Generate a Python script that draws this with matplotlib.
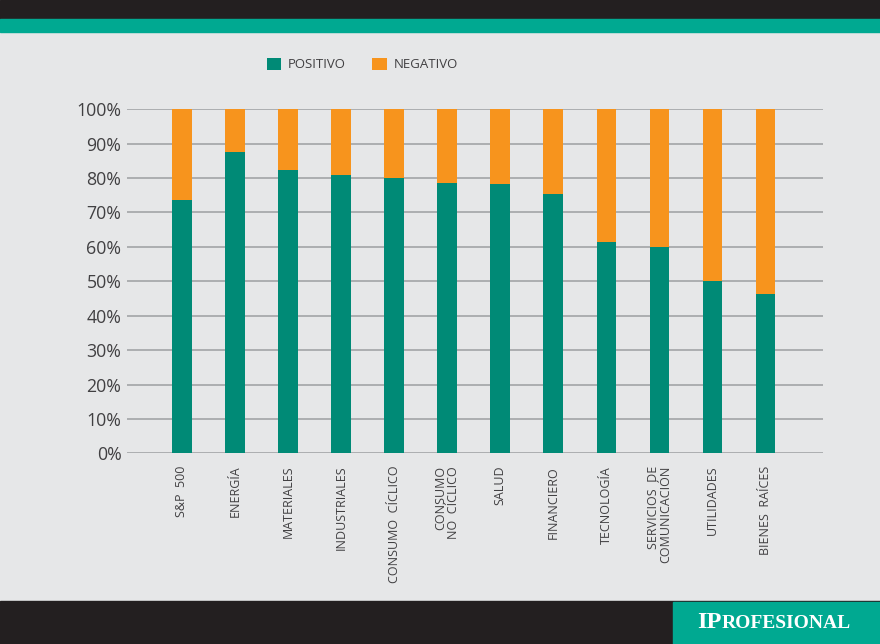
import matplotlib.pyplot as plt
from matplotlib.patches import Rectangle, Patch
import numpy as np

# datos (porcentaje de empresas con sorpresa positiva / negativa)
sectores = ["S&P  500", "ENERGÍA", "MATERIALES", "INDUSTRIALES", "CONSUMO  CÍCLICO",
            "CONSUMO\nNO  CÍCLICO", "SALUD", "FINANCIERO", "TECNOLOGÍA",
            "SERVICIOS  DE\nCOMUNICACIÓN", "UTILIDADES", "BIENES  RAÍCES"]
positivo = [73.6, 87.6, 82.4, 81.0, 80.1, 78.5, 78.3, 75.5, 61.4, 60.0, 50.0, 46.4]
negativo = [100 - p for p in positivo]
yticks = [0, 10, 20, 30, 40, 50, 60, 70, 80, 90, 100]

VERDE = "#008a76"
NARANJA = "#f7941d"
FONDO = "#e6e7e8"
OSCURO = "#231f20"
TEAL = "#00a991"
TEXTO = "#414042"

plt.rcParams['font.family'] = ['Open Sans', 'DejaVu Sans']

W, H = 880, 644
fig = plt.figure(figsize=(W / 100, H / 100), dpi=100, facecolor=FONDO)

# franjas de cabecera y pie
fig.patches.append(Rectangle((0, 1 - 19 / H), 1, 19 / H, transform=fig.transFigure,
                             color=OSCURO, zorder=0))
fig.patches.append(Rectangle((0, 1 - 32 / H), 1, 13 / H, transform=fig.transFigure,
                             color=TEAL, zorder=0))
fig.patches.append(Rectangle((0, 0), 1, 43 / H, transform=fig.transFigure,
                             color=OSCURO, zorder=0))
fig.patches.append(Rectangle((673 / W, 0), 1 - 673 / W, 42 / H, transform=fig.transFigure,
                             color=TEAL, zorder=1))

ax = fig.add_axes([127 / W, 1 - 453.3 / H, (823 - 127) / W, (453.3 - 109.3) / H])
ax.set_facecolor(FONDO)

x = np.arange(len(sectores))
ax.bar(x, positivo, width=0.37, color=VERDE, zorder=3)
ax.bar(x, negativo, width=0.37, bottom=positivo, color=NARANJA, zorder=3)

ax.set_xlim(-1.03, 12.08)
ax.set_ylim(0, 100)
ax.set_yticks(yticks)
ax.set_yticklabels([f"{t}%" for t in yticks], fontsize=12.8, color=TEXTO)
ax.yaxis.grid(True, color="#a7a9ac", linewidth=1.3, zorder=1)
ax.tick_params(axis='y', length=0, pad=4)
ax.tick_params(axis='x', length=0, pad=9)
for s in ax.spines.values():
    s.set_visible(False)

ax.set_xticks(x)
ax.set_xticklabels(sectores, rotation=90, fontsize=9, color=TEXTO,
                   va='top', ha='center', multialignment='right', linespacing=0.95)

handles = [Patch(facecolor=VERDE, label="POSITIVO"), Patch(facecolor=NARANJA, label="NEGATIVO")]
fig.legend(handles=handles, loc='center left', bbox_to_anchor=(255 / W, 1 - 64.5 / H),
           ncol=2, frameon=False, fontsize=9.5, handlelength=1.1, handleheight=1.1,
           handletextpad=0.5, columnspacing=2.0, labelcolor=TEXTO)

# logo
fig.canvas.draw()
t1 = fig.text(697 / W, 1 - 628 / H, "IP", fontsize=17.5, fontweight='bold',
              family='Liberation Serif', color='white', va='baseline')
fig.canvas.draw()
bb = t1.get_window_extent()
fig.text(bb.x1 / W, 1 - 628 / H, "ROFESIONAL", fontsize=14, fontweight='bold',
         family='Liberation Serif', color='white', va='baseline')

fig.savefig("out.png", dpi=100, facecolor=FONDO)
